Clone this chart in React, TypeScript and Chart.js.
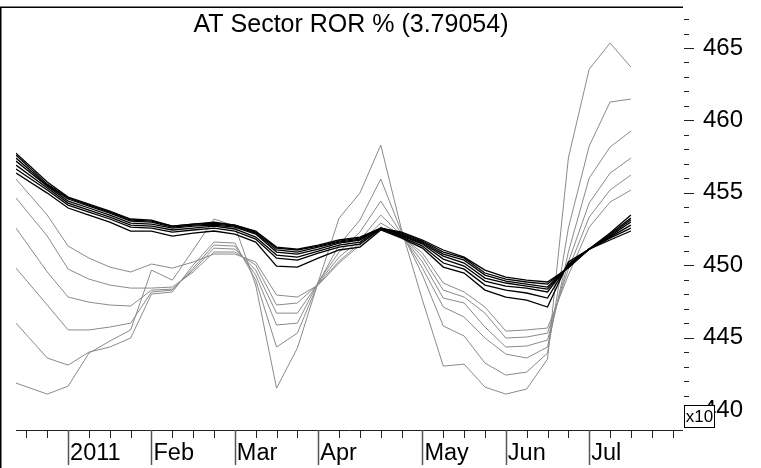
import React, { useEffect, useRef } from 'react';
import { Chart, registerables } from 'chart.js';

Chart.register(...registerables);

// x positions (week index); first point sits on the left edge of the plot
const weeks = [-0.5, 1, 2, 3, 4, 5, 6, 7, 8, 9, 10, 11, 12, 13, 14, 15, 16, 17, 18, 19, 20, 21, 22, 23, 24, 25, 26, 27, 28, 29];
const tickWeeks = Array.from({ length: 32 }, (_, i) => i);
const monthWeeks = [2, 6, 10, 14, 19, 23, 27];
const monthLabels = ['2011', 'Feb', 'Mar', 'Apr', 'May', 'Jun', 'Jul'];
const yLabelValues = [440, 445, 450, 455, 460, 465];
const yMinorValues = Array.from({ length: 29 }, (_, i) => 439 + i);

const title = 'AT Sector ROR % (3.79054)';

// gray (fast) series
const g1 = [441.86, 441.10, 441.65, 443.93, 444.76, 445.53, 449.66, 448.97, 451.05, 453.19, 452.70, 448.63, 441.51, 444.28, 448.84, 453.25, 454.98, 458.30, 452.43, 447.59, 443.03, 443.17, 441.58, 441.10, 441.45, 443.52, 457.40, 463.54, 465.34, 463.68];
const g2 = [446.00, 443.59, 443.10, 444.00, 444.35, 444.97, 448.01, 448.15, 450.01, 451.60, 451.53, 448.97, 444.35, 445.31, 448.77, 451.39, 453.12, 455.95, 452.29, 449.32, 445.80, 445.11, 443.24, 442.41, 442.62, 443.93, 452.56, 458.23, 461.27, 461.47];
const g3 = [449.80, 447.25, 445.53, 445.53, 445.73, 446.00, 448.15, 448.28, 449.80, 451.39, 451.32, 449.32, 445.87, 446.00, 448.84, 450.91, 452.29, 454.43, 452.15, 449.80, 447.11, 446.42, 444.97, 443.86, 443.59, 444.35, 450.91, 456.02, 458.16, 459.26];
const g4 = [452.56, 449.53, 447.80, 447.45, 447.25, 447.18, 448.28, 448.35, 449.66, 451.18, 451.11, 449.66, 446.69, 446.69, 448.77, 450.56, 451.74, 453.46, 452.08, 450.22, 447.73, 447.39, 445.73, 444.35, 444.42, 444.83, 450.22, 454.29, 456.36, 457.40];
const g5 = [454.64, 452.01, 449.73, 449.04, 448.63, 448.42, 448.42, 448.49, 449.53, 450.91, 450.91, 450.01, 447.25, 447.39, 448.70, 450.28, 451.53, 452.91, 452.08, 450.56, 448.28, 447.80, 446.69, 444.97, 445.04, 445.31, 449.73, 453.32, 455.19, 456.23];
const g6 = [455.95, 453.46, 451.32, 450.49, 449.87, 449.53, 450.08, 449.80, 450.22, 450.77, 450.77, 450.22, 447.94, 447.80, 448.63, 450.15, 451.39, 452.63, 452.01, 450.84, 448.77, 448.15, 447.11, 445.45, 445.53, 445.66, 449.32, 452.63, 454.36, 455.19];

// black (slow) series
const b1 = [456.36, 454.98, 453.95, 453.46, 452.98, 452.36, 452.36, 452.01, 452.22, 452.36, 452.15, 451.60, 449.94, 449.87, 450.49, 451.05, 451.25, 452.43, 451.87, 451.18, 449.87, 449.46, 448.28, 447.80, 447.59, 447.11, 450.22, 451.11, 452.22, 453.46];
const b2 = [456.64, 455.19, 454.15, 453.67, 453.19, 452.63, 452.56, 452.29, 452.43, 452.56, 452.36, 451.80, 450.49, 450.35, 450.84, 451.25, 451.46, 452.50, 451.94, 451.32, 450.15, 449.73, 448.63, 448.28, 448.08, 447.73, 450.08, 451.11, 452.15, 453.25];
const b3 = [456.91, 455.33, 454.29, 453.81, 453.32, 452.77, 452.70, 452.43, 452.56, 452.70, 452.50, 451.94, 450.70, 450.56, 450.98, 451.39, 451.60, 452.50, 452.01, 451.46, 450.42, 449.94, 448.90, 448.56, 448.42, 448.15, 450.01, 451.11, 452.08, 453.12];
const b4 = [457.19, 455.46, 454.43, 453.95, 453.46, 452.91, 452.84, 452.56, 452.70, 452.77, 452.63, 452.15, 450.91, 450.77, 451.11, 451.53, 451.74, 452.56, 452.08, 451.53, 450.63, 450.15, 449.11, 448.77, 448.56, 448.35, 449.94, 451.11, 452.01, 452.98];
const b5 = [457.40, 455.53, 454.57, 454.08, 453.60, 453.05, 452.98, 452.63, 452.77, 452.84, 452.70, 452.22, 451.05, 450.91, 451.25, 451.60, 451.80, 452.56, 452.15, 451.60, 450.77, 450.35, 449.32, 448.90, 448.70, 448.49, 449.94, 451.11, 451.94, 452.77];
const b6 = [457.61, 455.60, 454.64, 454.15, 453.67, 453.12, 453.05, 452.70, 452.84, 452.91, 452.77, 452.29, 451.18, 451.05, 451.32, 451.67, 451.87, 452.56, 452.22, 451.67, 450.91, 450.49, 449.46, 449.04, 448.84, 448.70, 449.87, 451.11, 451.87, 452.56];
const b7 = [457.74, 455.74, 454.70, 454.22, 453.74, 453.19, 453.12, 452.70, 452.84, 452.98, 452.77, 452.36, 451.25, 451.11, 451.39, 451.74, 451.94, 452.56, 452.29, 451.74, 451.05, 450.56, 449.66, 449.18, 448.97, 448.84, 449.80, 451.11, 451.74, 452.36];

const blackSeries = [b1, b2, b3, b4, b5, b6, b7];
const graySeries = [g1, g2, g3, g4, g5, g6];

const FONT = '"Liberation Sans", Arial, Helvetica, sans-serif';

const decor = {
  id: 'decor',
  afterDraw(chart: any) {
    const ctx = chart.ctx;
    const { left, right, top, bottom } = chart.chartArea;
    const xs = chart.scales.x;
    const ys = chart.scales.y;
    ctx.save();
    // title
    ctx.fillStyle = '#000';
    ctx.font = `25px ${FONT}`;
    ctx.textAlign = 'center';
    ctx.textBaseline = 'alphabetic';
    ctx.fillText(title, (left + right) / 2 + 1.5, 32);
    // frame
    ctx.strokeStyle = '#000';
    ctx.lineWidth = 1.5;
    ctx.beginPath();
    ctx.moveTo(0, top + 0.25);
    ctx.lineTo(right, top + 0.25);
    ctx.stroke();
    ctx.beginPath();
    ctx.moveTo(0.75, top);
    ctx.lineTo(0.75, chart.height);
    ctx.stroke();
    // x axis line
    ctx.lineWidth = 1;
    ctx.strokeStyle = '#222';
    ctx.beginPath();
    ctx.moveTo(left, bottom + 0.5);
    ctx.lineTo(right, bottom + 0.5);
    ctx.stroke();
    // x ticks
    tickWeeks.forEach((w) => {
      if (monthWeeks.includes(w)) return;
      const px = Math.round(xs.getPixelForValue(w)) + 0.5;
      ctx.beginPath();
      ctx.moveTo(px, bottom);
      ctx.lineTo(px, bottom + 8);
      ctx.stroke();
    });
    // month separators
    ctx.strokeStyle = '#555';
    ctx.lineWidth = 1.5;
    monthWeeks.forEach((w) => {
      const px = Math.round(xs.getPixelForValue(w)) + 0.5;
      ctx.beginPath();
      ctx.moveTo(px, bottom);
      ctx.lineTo(px, bottom + 35);
      ctx.stroke();
    });
    // y ticks
    ctx.strokeStyle = '#222';
    ctx.lineWidth = 1;
    yMinorValues.forEach((v) => {
      const py = Math.round(ys.getPixelForValue(v)) + 0.5;
      const len = v % 5 === 0 ? 10 : 5;
      ctx.beginPath();
      ctx.moveTo(right + 1, py);
      ctx.lineTo(right + 1 + len, py);
      ctx.stroke();
    });
    // x10 box
    ctx.fillStyle = '#fff';
    ctx.fillRect(684.5, 405.5, 30, 22);
    ctx.strokeStyle = '#000';
    ctx.strokeRect(684.5, 405.5, 30, 22);
    ctx.fillStyle = '#000';
    ctx.font = `17px ${FONT}`;
    ctx.textAlign = 'center';
    ctx.textBaseline = 'middle';
    ctx.fillText('x10', 699.5, 417);
    ctx.restore();
  },
};

export default function App() {
  const ref = useRef<HTMLCanvasElement | null>(null);
  useEffect(() => {
    if (!ref.current) return;
    Chart.defaults.font.family = FONT;
    const mk = (arr: number[]) => arr.map((v, i) => ({ x: weeks[i], y: v }));
    const datasets: any[] = [
      ...blackSeries.map((s) => ({
        data: mk(s),
        borderColor: '#000',
        borderWidth: 1.3,
        pointRadius: 0,
        tension: 0,
        fill: false,
      })),
      ...graySeries.map((s) => ({
        data: mk(s),
        borderColor: '#8a8a8a',
        borderWidth: 1,
        pointRadius: 0,
        tension: 0,
        fill: false,
      })),
    ];
    const chart = new Chart(ref.current, {
      type: 'line',
      data: { datasets },
      plugins: [decor],
      options: {
        responsive: false,
        animation: false,
        devicePixelRatio: 1,
        layout: { padding: { left: 16, top: 7, right: 0, bottom: 0 } },
        plugins: { legend: { display: false }, title: { display: false }, tooltip: { enabled: false } },
        events: [],
        scales: {
          x: {
            type: 'linear',
            min: -0.5,
            max: 31.5,
            position: 'bottom',
            grid: { display: false, drawTicks: false },
            border: { display: false },
            afterBuildTicks: (scale: any) => {
              scale.ticks = tickWeeks.map((v) => ({ value: v }));
            },
            afterFit: (scale: any) => {
              scale.height = 38;
              scale.paddingLeft = 0;
              scale.paddingRight = 0;
            },
            ticks: {
              autoSkip: false,
              maxRotation: 0,
              minRotation: 0,
              align: 'start',
              labelOffset: 2,
              padding: 9,
              color: '#000',
              font: { size: 23.5, family: FONT },
              callback: (v: any) => {
                const i = monthWeeks.indexOf(Number(v));
                return i >= 0 ? monthLabels[i] : '';
              },
            },
          },
          y: {
            type: 'linear',
            position: 'right',
            min: 438.62,
            max: 467.83,
            grid: { display: false, drawTicks: false },
            border: { display: false },
            afterBuildTicks: (scale: any) => {
              scale.ticks = yLabelValues.map((v) => ({ value: v }));
            },
            afterFit: (scale: any) => {
              scale.width = 78;
              scale.paddingTop = 0;
              scale.paddingBottom = 0;
            },
            ticks: {
              padding: 20,
              color: '#000',
              font: { size: 24, family: FONT },
              callback: (v: any) => String(v),
            },
          },
        },
      } as any,
    });
    return () => chart.destroy();
  }, []);
  return (
    <div style={{ position: 'fixed', left: 0, top: 0, width: 761, height: 468, background: '#fff' }}>
      <canvas ref={ref} width={761} height={468} style={{ display: 'block' }} />
    </div>
  );
}
